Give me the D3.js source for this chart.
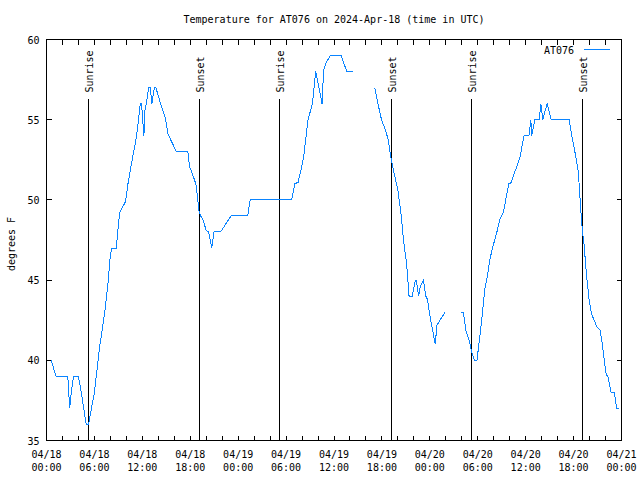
<!DOCTYPE html>
<html><head><meta charset="utf-8">
<script src="https://cdn.jsdelivr.net/npm/d3@7"></script>
<style>body{margin:0;background:#fff}text{font-family:"DejaVu Sans Mono","Liberation Mono",monospace;font-size:10px;fill:#000}</style>
</head><body>
<svg id="c" width="640" height="480"></svg>
<script>
const title = "Temperature for AT076 on 2024-Apr-18 (time in UTC)";
const seriesName = "AT076";
const yTitle = "degrees F";
// hours since 2024-04-18 00:00 UTC
const hours = [0.58,1.2,2.67,2.9,3.1,3.38,4.0,4.35,4.97,5.26,6.0,6.64,7.27,7.7,7.98,8.2,8.73,8.94,9.15,9.9,10.2,10.8,11.24,11.53,11.74,11.9,12.2,12.3,12.5,12.78,13.0,13.2,13.5,13.7,14.4,14.9,15.2,15.5,15.9,16.25,17.7,17.9,18.5,18.75,19.1,19.3,19.6,20.0,20.3,20.7,20.97,21.8,23.1,25.2,25.5,30.7,31.1,31.5,31.9,32.2,32.75,33.3,33.7,34.0,34.5,34.7,35.05,35.55,36.9,37.6,38.4,39.5,41.1,41.5,41.95,42.4,42.8,43.1,43.6,44.0,44.4,44.7,45.1,45.4,45.8,46.2,46.3,46.6,46.8,47.2,47.5,47.7,48.1,48.35,48.67,48.9,49.9,51.0,51.9,52.2,52.5,53.0,53.2,53.6,53.9,54.5,54.9,55.2,55.5,55.9,56.35,56.8,57.2,57.5,57.9,58.1,58.9,59.3,59.8,60.4,60.65,60.75,61.15,61.7,61.9,62.15,62.4,62.7,63.2,65.45,65.7,66.2,66.6,66.9,67.1,67.3,67.6,67.95,68.25,68.9,69.3,69.6,69.9,70.1,70.3,70.7,71.1,71.4,71.7];
const temps = [40,39,39,37,38,39,39,38,36,36,38,40.8,42.9,44.8,46.5,47,47,48.1,49.2,49.9,51,52.7,53.85,55,56,56,54,55.5,56,57,57,56,57,57,55.8,55.1,54.1,53.8,53.4,53,53,52.1,51.3,50.9,49.3,49,48.75,48.1,48,47,48,48,49,49,50,50,51,51.1,51.9,52.7,55,56,58,57.3,56,58.1,58.6,59,59,58,58,null,57,56,55,54.4,53.75,52.7,51.5,50.6,49.1,47.5,46,44,44,45,45,44,44.6,45,44,43.8,42.5,41.9,41,42.2,43,null,43,43,41.9,41.1,40.6,40,40,42.5,44.5,45.2,46.25,47.1,47.9,48.85,49.2,50,51,51,52.1,52.7,54,54,55,54,55,55,56,55,55.5,56,55,55,54.2,52.9,51.7,49.4,48.1,47.3,45.4,43.75,42.9,42.1,41.9,41,39.8,39.06,39,38,38,37,37];
const sunrise = [5.22, 29.18, 53.2];
const sunset = [19.13, 43.17, 67.12];
const yTicks = [35,40,45,50,55,60];
const xMajor = [0,6,12,18,24,30,36,42,48,54,60,66,72];
const xLabels = [["04/18","00:00"],["04/18","06:00"],["04/18","12:00"],["04/18","18:00"],["04/19","00:00"],["04/19","06:00"],["04/19","12:00"],["04/19","18:00"],["04/20","00:00"],["04/20","06:00"],["04/20","12:00"],["04/20","18:00"],["04/21","00:00"]];
const xMinor = d3.range(0,73,2);

const L=46.5, R=621.5, T=39.5, B=440.5;
const svg = d3.select("#c");
const x = d3.scaleLinear().domain([0,72]).range([L,R]);
const y = d3.scaleLinear().domain([35,60]).range([B,T]);
const blue = "#0a84ff";

// ticks (mirrored)
const g = svg.append("g").attr("stroke","#000").attr("stroke-width",1).attr("shape-rendering","crispEdges");
xMinor.forEach(h=>{
  g.append("line").attr("x1",x(h)).attr("x2",x(h)).attr("y1",B).attr("y2",B-5);
  g.append("line").attr("x1",x(h)).attr("x2",x(h)).attr("y1",T).attr("y2",T+5);
});
yTicks.forEach(v=>{
  g.append("line").attr("x1",L).attr("x2",L+5).attr("y1",y(v)).attr("y2",y(v));
  g.append("line").attr("x1",R).attr("x2",R-5).attr("y1",y(v)).attr("y2",y(v));
});
// sunrise/sunset
const ev = sunrise.map(h=>({h,t:"Sunrise"})).concat(sunset.map(h=>({h,t:"Sunset"})));
ev.forEach(e=>{
  g.append("line").attr("x1",x(e.h)).attr("x2",x(e.h)).attr("y1",B).attr("y2",T+59);
  svg.append("text").attr("transform",`translate(${x(e.h)+4.5},${T+53}) rotate(-90)`).text(e.t);
});
// frame
g.append("rect").attr("x",L).attr("y",T).attr("width",R-L).attr("height",B-T).attr("fill","none");

// labels
yTicks.forEach(v=>{
  svg.append("text").attr("x",39.5).attr("y",y(v)+4).attr("text-anchor","end").text(v);
});
xMajor.forEach((h,i)=>{
  const t = svg.append("text").attr("text-anchor","middle");
  t.append("tspan").attr("x",x(h)).attr("y",458).text(xLabels[i][0]);
  t.append("tspan").attr("x",x(h)).attr("y",470.5).text(xLabels[i][1]);
});
svg.append("text").attr("x",(L+R)/2).attr("y",23).attr("text-anchor","middle").text(title);
svg.append("text").attr("transform","translate(14.5,244) rotate(-90)").attr("text-anchor","middle").text(yTitle);

// legend
svg.append("text").attr("x",574).attr("y",53.5).attr("text-anchor","end").text(seriesName);
svg.append("line").attr("x1",584).attr("x2",610).attr("y1",49.5).attr("y2",49.5).attr("stroke",blue).attr("stroke-width",1).attr("shape-rendering","crispEdges");

// data line
const data = hours.map((h,i)=>({h, v:temps[i]}));
const line = d3.line().defined(d=>d.v!==null).x(d=>x(d.h)).y(d=>y(d.v));
svg.append("path").datum(data).attr("d",line).attr("fill","none").attr("stroke",blue).attr("stroke-width",1).attr("shape-rendering","crispEdges");
</script>
</body></html>
